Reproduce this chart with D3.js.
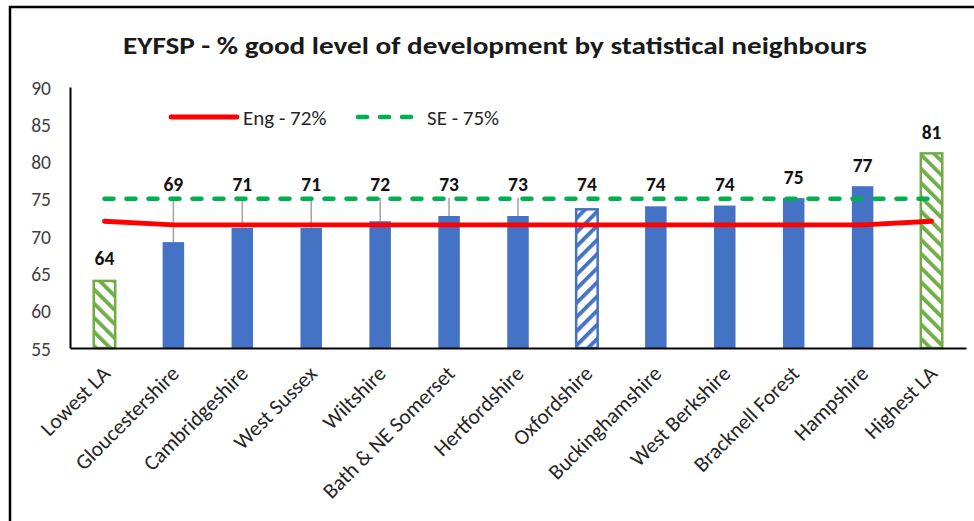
<!DOCTYPE html>
<html>
<head>
<meta charset="utf-8">
<script src="https://cdn.jsdelivr.net/npm/d3@7"></script>
<style>
  body { margin: 0; background: #fff; }
  svg text { font-family: Calibri, Carlito, Lato, "Open Sans", sans-serif; }
</style>
</head>
<body>
<svg id="chart"></svg>
<script>
// chart data
var categories = ["Lowest LA", "Gloucestershire", "Cambridgeshire", "West Sussex", "Wiltshire",
  "Bath & NE Somerset", "Hertfordshire", "Oxfordshire", "Buckinghamshire", "West Berkshire",
  "Bracknell Forest", "Hampshire", "Highest LA"];
var gldValues = [64, 69.2, 71.1, 71.1, 72.0, 72.7, 72.7, 73.6, 74.0, 74.1, 75.1, 76.7, 81.1];
var gldLabels = ["64", "69", "71", "71", "72", "73", "73", "74", "74", "74", "75", "77", "81"];
var barKind = ["low", "sn", "sn", "sn", "sn", "sn", "sn", "oxon", "sn", "sn", "sn", "sn", "high"];
var engValues = [72, 71.5, 71.5, 71.5, 71.5, 71.5, 71.5, 71.5, 71.5, 71.5, 71.5, 71.5, 72];
var seValues = [75, 75, 75, 75, 75, 75, 75, 75, 75, 75, 75, 75, 75];
var yTicks = [55, 60, 65, 70, 75, 80, 85, 90];
var legendNames = ["Eng - 72%", "SE - 75%"];

var W = 974, H = 521;
var svg = d3.select("#chart").attr("width", W).attr("height", H);

// chart area frame (runs off the right and bottom edges)
svg.append("rect")
    .attr("x", 10).attr("y", 7)
    .attr("width", 1000).attr("height", 600)
    .style("fill", "#fff")
    .style("stroke", "#000")
    .style("stroke-width", 2.5);

// hatch patterns
var defs = svg.append("defs");
function hatch(id, color, angle) {
    var p = defs.append("pattern")
        .attr("id", id)
        .attr("patternUnits", "userSpaceOnUse")
        .attr("width", 10).attr("height", 10)
        .attr("patternTransform", "rotate(" + angle + ")");
    p.append("rect").attr("width", 10).attr("height", 10).style("fill", "#fff");
    p.append("rect").attr("width", 3.8).attr("height", 10).style("fill", color);
}
hatch("hatchGreen", "#70AD47", -45);
hatch("hatchBlue", "#4472C4", 45);

var plot = {left: 70, right: 966, top: 87, bottom: 348};

var x = d3.scaleBand()
    .domain(categories)
    .range([plot.left, plot.right])
    .paddingInner(0)
    .paddingOuter(0);

var y = d3.scaleLinear()
    .domain([55, 90])
    .range([plot.bottom, plot.top]);

var barW = 21.5;

// title
var title = svg.append("text")
    .attr("x", 495)
    .attr("y", 54)
    .attr("text-anchor", "middle")
    .style("font-size", "24px")
    .style("font-weight", "bold")
    .style("fill", "#1a1a1a")
    .text("EYFSP - % good level of development by statistical neighbours");
title.attr("textLength", 744).attr("lengthAdjust", "spacingAndGlyphs");

// y axis labels (no tick marks)
var yAxis = d3.axisLeft(y).tickValues(yTicks).tickSize(0).tickPadding(19);
var gy = svg.append("g")
    .attr("transform", "translate(" + plot.left + ",0)")
    .call(yAxis);
gy.select(".domain").style("stroke", "#000").style("stroke-width", 2);
gy.selectAll("text")
    .style("font-size", "19.5px")
    .style("fill", "#404040")
    .attr("dy", "0.36em");

// bars
var kindFill = {low: "url(#hatchGreen)", high: "url(#hatchGreen)", oxon: "url(#hatchBlue)", sn: "#4472C4"};
var kindStroke = {low: "#70AD47", high: "#70AD47", oxon: "#4472C4", sn: "none"};

var bars = categories.map(function(c, i) {
    return {cat: c, v: gldValues[i], label: gldLabels[i], kind: barKind[i]};
});

svg.selectAll("rect.bar")
    .data(bars)
    .enter()
    .append("rect")
    .attr("class", "bar")
    .attr("x", function(d) { return x(d.cat) + x.bandwidth() / 2 - barW / 2; })
    .attr("y", function(d) { return y(d.v); })
    .attr("width", barW)
    .attr("height", function(d) { return plot.bottom - y(d.v); })
    .style("fill", function(d) { return kindFill[d.kind]; })
    .style("stroke", function(d) { return kindStroke[d.kind]; })
    .style("stroke-width", 2.5);

// label position: the lowest sits on its bar, the rest are lifted above the reference lines
function labelPos(d) {
    if (d.kind === "low") return d.v + 3.1;
    return Math.max(d.v + 2.9, 77);
}

// leader lines from the moved labels down to the bars
svg.selectAll("line.leader")
    .data(bars.filter(function(d) { return d.kind !== "low" && y(d.v) - y(labelPos(d)) > 26; }))
    .enter()
    .append("line")
    .attr("class", "leader")
    .attr("x1", function(d) { return x(d.cat) + x.bandwidth() / 2; })
    .attr("x2", function(d) { return x(d.cat) + x.bandwidth() / 2; })
    .attr("y1", function(d) { return y(labelPos(d)) + 14; })
    .attr("y2", function(d) { return y(d.v); })
    .style("stroke", "#A6A6A6")
    .style("stroke-width", 1.6);

// reference lines
var line = d3.line()
    .x(function(d, i) { return x(categories[i]) + x.bandwidth() / 2; })
    .y(function(d) { return y(d); });

svg.append("path")
    .datum(seValues)
    .attr("d", line)
    .style("fill", "none")
    .style("stroke", "#00B050")
    .style("stroke-width", 4.5)
    .style("stroke-dasharray", "9,13")
    .style("stroke-linecap", "round");

svg.append("path")
    .datum(engValues)
    .attr("d", line)
    .style("fill", "none")
    .style("stroke", "#FF0000")
    .style("stroke-width", 4.8)
    .style("stroke-linecap", "round");

// data labels
svg.selectAll("text.dlabel")
    .data(bars)
    .enter()
    .append("text")
    .attr("class", "dlabel")
    .attr("x", function(d) { return x(d.cat) + x.bandwidth() / 2; })
    .attr("y", function(d) { return y(labelPos(d)); })
    .attr("dy", "0.36em")
    .attr("text-anchor", "middle")
    .style("font-size", "19.5px")
    .style("font-weight", "bold")
    .style("fill", "#111")
    .text(function(d) { return d.label; });

// x axis
var xAxis = d3.axisBottom(x).tickSize(0).tickPadding(0);
var gx = svg.append("g")
    .attr("transform", "translate(0," + plot.bottom + ")")
    .call(xAxis);
gx.select(".domain").style("stroke", "#000").style("stroke-width", 2);
gx.selectAll("text")
    .attr("text-anchor", "end")
    .attr("dy", null)
    .attr("y", 0)
    .attr("transform", "translate(7,27) rotate(-45)")
    .style("font-size", "21.5px")
    .style("fill", "#262626");

// legend
var legend = svg.append("g").attr("transform", "translate(171,117)");
legend.append("line")
    .attr("x1", 0).attr("x2", 66).attr("y1", 0).attr("y2", 0)
    .style("stroke", "#FF0000").style("stroke-width", 4.8).style("stroke-linecap", "round");
legend.append("text")
    .attr("x", 72).attr("y", 0).attr("dy", "0.36em")
    .style("font-size", "21px").style("fill", "#262626")
    .text(legendNames[0]);
legend.append("line")
    .attr("x1", 187).attr("x2", 249).attr("y1", 0).attr("y2", 0)
    .style("stroke", "#00B050").style("stroke-width", 4.5)
    .style("stroke-dasharray", "9,13").style("stroke-linecap", "round");
legend.append("text")
    .attr("x", 256).attr("y", 0).attr("dy", "0.36em")
    .style("font-size", "21px").style("fill", "#262626")
    .text(legendNames[1]);
</script>
</body>
</html>
